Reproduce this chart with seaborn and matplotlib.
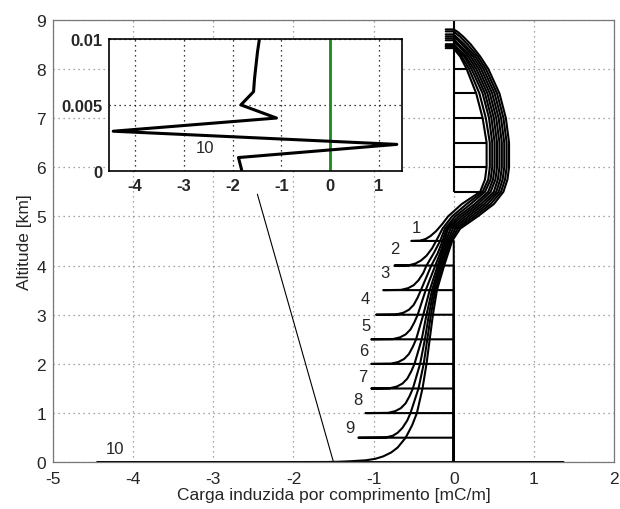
import numpy as np
import pandas as pd
import matplotlib
matplotlib.use("Agg")
import matplotlib.pyplot as plt
import seaborn as sns

sns.set_style("white")
plt.rcParams['font.family'] = ['Liberation Sans', 'DejaVu Sans']
plt.rcParams['axes.unicode_minus'] = False

# Leader tip altitude of each numbered stage [km] and the charge at the tip [mC/m]
STAGE = [1, 2, 3, 4, 5, 6, 7, 8, 9, 10]
TIP_ALT = [4.5, 4.0, 3.5, 3.0, 2.5, 2.0, 1.5, 1.0, 0.5, 0.0]

# Induced charge per unit length along the channel, from the tip upward
ALT_1 = [4.5, 4.505, 4.54, 4.6, 4.7, 4.85, 5.0, 5.25, 5.5, 5.75, 6.0, 6.5, 7.0, 7.5, 8.0, 8.25, 8.35, 8.42, 8.42]
Q_1 = [-0.53, -0.42, -0.35, -0.29, -0.22, -0.14, -0.07, 0.10, 0.33, 0.39, 0.41, 0.41, 0.36, 0.28, 0.16, 0.08, 0.03, 0.0, -0.1]

ALT_2 = [4.0, 4.005, 4.04, 4.1, 4.2, 4.35, 4.5, 4.75, 5.0, 5.25, 5.5, 5.75, 6.0, 6.5, 7.0, 7.5, 8.0, 8.25, 8.35, 8.45, 8.45]
Q_2 = [-0.74, -0.56, -0.48, -0.41, -0.34, -0.27, -0.22, -0.14, -0.02, 0.16, 0.36, 0.43, 0.45, 0.45, 0.40, 0.32, 0.19, 0.10, 0.05, 0.0, -0.1]

ALT_3 = [3.5, 3.505, 3.54, 3.6, 3.7, 3.85, 4.0, 4.25, 4.5, 4.75, 5.0, 5.25, 5.5, 5.75, 6.0, 6.5, 7.0, 7.5, 8.0, 8.25, 8.38, 8.47, 8.47]
Q_3 = [-0.88, -0.66, -0.57, -0.50, -0.44, -0.38, -0.34, -0.25, -0.17, -0.11, 0.02, 0.21, 0.39, 0.46, 0.48, 0.48, 0.44, 0.36, 0.22, 0.13, 0.05, 0.0, -0.1]

ALT_4 = [3.0, 3.005, 3.04, 3.1, 3.2, 3.35, 3.5, 4.0, 4.25, 4.5, 4.75, 5.0, 5.25, 5.5, 5.75, 6.0, 6.5, 7.0, 7.5, 8.0, 8.25, 8.4, 8.5, 8.5]
Q_4 = [-0.97, -0.72, -0.63, -0.56, -0.50, -0.45, -0.41, -0.28, -0.20, -0.14, -0.09, 0.06, 0.26, 0.43, 0.49, 0.51, 0.51, 0.47, 0.39, 0.25, 0.15, 0.06, 0.0, -0.1]

ALT_5 = [2.5, 2.505, 2.54, 2.6, 2.7, 2.85, 3.0, 3.5, 4.0, 4.25, 4.5, 4.75, 5.0, 5.25, 5.5, 5.75, 6.0, 6.5, 7.0, 7.5, 8.0, 8.25, 8.45, 8.52, 8.58, 8.58]
Q_5 = [-1.03, -0.76, -0.67, -0.60, -0.54, -0.49, -0.45, -0.35, -0.23, -0.17, -0.12, -0.07, 0.10, 0.30, 0.46, 0.52, 0.54, 0.54, 0.50, 0.42, 0.28, 0.18, 0.07, 0.02, 0.0, -0.1]

ALT_6 = [2.0, 2.005, 2.04, 2.1, 2.2, 2.35, 2.5, 3.0, 3.5, 4.0, 4.25, 4.5, 4.75, 5.0, 5.25, 5.5, 5.75, 6.0, 6.5, 7.0, 7.5, 8.0, 8.25, 8.45, 8.55, 8.62, 8.62]
Q_6 = [-1.03, -0.78, -0.69, -0.62, -0.56, -0.51, -0.47, -0.38, -0.30, -0.20, -0.15, -0.10, -0.04, 0.14, 0.34, 0.50, 0.55, 0.57, 0.57, 0.53, 0.45, 0.31, 0.21, 0.09, 0.03, 0.0, -0.1]

ALT_7 = [1.5, 1.505, 1.54, 1.6, 1.7, 1.85, 2.0, 2.5, 3.0, 3.5, 4.0, 4.25, 4.5, 4.75, 5.0, 5.25, 5.5, 5.75, 6.0, 6.5, 7.0, 7.5, 8.0, 8.25, 8.5, 8.6, 8.66, 8.66]
Q_7 = [-1.03, -0.80, -0.71, -0.64, -0.58, -0.53, -0.49, -0.40, -0.34, -0.27, -0.18, -0.13, -0.08, -0.01, 0.18, 0.38, 0.53, 0.58, 0.60, 0.60, 0.56, 0.48, 0.34, 0.24, 0.10, 0.04, 0.0, -0.1]

ALT_8 = [1.0, 1.005, 1.04, 1.1, 1.2, 1.35, 1.5, 2.0, 2.5, 3.0, 3.5, 4.0, 4.25, 4.5, 4.75, 5.0, 5.25, 5.5, 5.75, 6.0, 6.5, 7.0, 7.5, 8.0, 8.25, 8.5, 8.62, 8.7, 8.7]
Q_8 = [-1.10, -0.82, -0.73, -0.66, -0.60, -0.55, -0.51, -0.42, -0.36, -0.31, -0.25, -0.16, -0.11, -0.06, 0.02, 0.22, 0.42, 0.56, 0.61, 0.63, 0.63, 0.59, 0.51, 0.37, 0.27, 0.13, 0.05, 0.0, -0.1]

ALT_9 = [0.5, 0.505, 0.54, 0.6, 0.7, 0.85, 1.0, 1.5, 2.0, 2.5, 3.0, 3.5, 4.0, 4.25, 4.5, 4.75, 5.0, 5.25, 5.5, 5.75, 6.0, 6.5, 7.0, 7.5, 8.0, 8.25, 8.5, 8.65, 8.76, 8.76]
Q_9 = [-1.19, -0.85, -0.76, -0.70, -0.64, -0.58, -0.54, -0.44, -0.375, -0.33, -0.285, -0.23, -0.14, -0.09, -0.04, 0.05, 0.26, 0.46, 0.59, 0.64, 0.66, 0.66, 0.62, 0.54, 0.40, 0.30, 0.17, 0.08, 0.0, -0.1]

ALT_10 = [0.0, 0.001, 0.002, 0.003, 0.004, 0.005, 0.006, 0.007, 0.008, 0.009, 0.01, 0.02, 0.04, 0.07, 0.12, 0.2, 0.3, 0.5, 0.75, 1.0,
          1.5, 2.0, 2.5, 3.0, 3.5, 4.0, 4.25, 4.5, 4.75, 5.0, 5.25, 5.5, 5.75, 6.0, 6.5, 7.0, 7.5, 8.0, 8.25, 8.5, 8.65, 8.75, 8.8, 8.8]
Q_10 = [-1.81, -1.88, 1.37, -4.45, -1.10, -1.83, -1.57, -1.55, -1.52, -1.49, -1.45, -1.30, -1.10, -0.98, -0.88, -0.78, -0.70, -0.60, -0.52, -0.46,
        -0.39, -0.34, -0.30, -0.26, -0.21, -0.12, -0.07, -0.02, 0.08, 0.30, 0.50, 0.62, 0.67, 0.69, 0.69, 0.65, 0.57, 0.43, 0.33, 0.21, 0.12, 0.05, 0.0, -0.1]

ALTS = [ALT_1, ALT_2, ALT_3, ALT_4, ALT_5, ALT_6, ALT_7, ALT_8, ALT_9, ALT_10]
QS = [Q_1, Q_2, Q_3, Q_4, Q_5, Q_6, Q_7, Q_8, Q_9, Q_10]

# Reference comb above the charge reversal
COMB_ALT = [5.5, 6.0, 6.5, 7.0, 7.5, 8.0]
COMB_Q = [0.37, 0.40, 0.40, 0.35, 0.27, 0.15]

# Number labels beside each stage
LABEL_X = [-0.47, -0.73, -0.86, -1.10, -1.10, -1.12, -1.13, -1.20, -1.30, -4.23]
LABEL_Y = [4.77, 4.34, 3.86, 3.33, 2.78, 2.27, 1.74, 1.27, 0.71, 0.28]

# Detail of stage 10 in the first 10 m above ground
ZOOM_ALT = [0.0, 0.001, 0.002, 0.003, 0.004, 0.005, 0.006, 0.007, 0.008, 0.009, 0.01]
ZOOM_Q = [-1.81, -1.88, 1.37, -4.45, -1.10, -1.83, -1.57, -1.55, -1.52, -1.49, -1.45]

# Long-form table: below the tip the channel carries no charge
rows = []
for stage, tip, alt, q in zip(STAGE, TIP_ALT, ALTS, QS):
    path_alt = [0.0, tip] + list(alt)
    path_q = [0.0, 0.0] + list(q)
    for k, (a, c) in enumerate(zip(path_alt, path_q)):
        rows.append({"stage": stage, "order": k, "alt": a, "q": c})
df = pd.DataFrame(rows)
zoom_df = pd.DataFrame({"alt": ZOOM_ALT, "q": ZOOM_Q})

fig = plt.figure(figsize=(6.2, 5.1), dpi=100)
ax = fig.add_axes([0.0855, 0.0916, 0.9049, 0.868])

grid_kw = dict(color="#8a8a8a", linestyle=(0, (1, 3)), linewidth=0.9)
ax.set_axisbelow(True)
ax.grid(True, **grid_kw)

LW = 1.5
sns.lineplot(data=df, x="q", y="alt", units="stage", estimator=None, sort=False,
             color="black", linewidth=LW, ax=ax, legend=False)

ax.vlines(0, COMB_ALT[0], 9, color="black", linewidth=LW)
ax.hlines(COMB_ALT, 0, COMB_Q, color="black", linewidth=LW)

# connector from the ground point to the detail panel
ax.plot([-1.5, -2.45], [0.0, 5.45], color="black", linewidth=0.8)

for s, lx, ly in zip(STAGE, LABEL_X, LABEL_Y):
    ax.text(lx, ly, str(s), fontsize=12, ha="center", va="center")

ax.set_xlim(-5, 2)
ax.set_ylim(0, 9)
ax.set_xticks(range(-5, 3))
ax.set_yticks(range(0, 10))
ax.set_xlabel("Carga induzida por comprimento [mC/m]", fontsize=12.5, labelpad=1)
ax.set_ylabel("Altitude [km]", fontsize=12.5, labelpad=3)
ax.tick_params(direction="in", labelsize=12.5, length=4, color="#555555")
ax.tick_params(axis="x", pad=6)
ax.tick_params(axis="y", pad=5)
for sp in ax.spines.values():
    sp.set_color("#777777")
    sp.set_linewidth(0.9)

# Detail panel
ins = fig.add_axes([0.1763, 0.6633, 0.4716, 0.2582])
ins.set_facecolor("white")
ins.set_axisbelow(True)
ins.grid(True, color="black", linestyle=(0, (1, 3)), linewidth=0.9)
ins.axvline(0, color="#1a8a1a", linewidth=2.0)
sns.lineplot(data=zoom_df, x="q", y="alt", estimator=None, sort=False,
             color="black", linewidth=2.2, ax=ins)
ins.text(-2.57, 0.00178, "10", fontsize=12, ha="center", va="center")
ins.set_xlim(-4.53, 1.47)
ins.set_ylim(0, 0.01)
ins.set_xticks([-4, -3, -2, -1, 0, 1])
ins.set_yticks([0, 0.005, 0.01])
ins.set_yticklabels(["0", "0.005", "0.01"])
ins.set_xlabel("")
ins.set_ylabel("")
ins.tick_params(direction="in", labelsize=12, length=3, pad=5)
for lab in ins.get_xticklabels() + ins.get_yticklabels():
    lab.set_fontweight("bold")
for sp in ins.spines.values():
    sp.set_color("black")
    sp.set_linewidth(1.2)

fig.savefig("out.png", dpi=100)
